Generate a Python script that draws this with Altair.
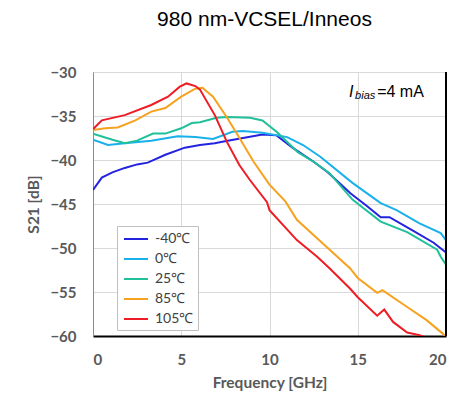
import altair as alt
import pandas as pd

# ---- data ----
series_names = ["-40℃", "0℃", "25℃", "85℃", "105℃"]
series_colors = ["#2323e0", "#1ab0ea", "#1fc09a", "#f6a21e", "#ee1c25"]

f_m40 = [0, 0.5, 1.1, 1.8, 2.5, 3.1, 4.1, 5.2, 6.06, 6.9, 7.4, 8.5, 9.6, 10.4, 11.3, 12.5, 13.3, 14.6, 15.5, 16.3, 16.8, 18.1, 19.3, 20]
db_m40 = [-43.4, -42.0, -41.4, -40.9, -40.5, -40.3, -39.4, -38.6, -38.3, -38.1, -37.9, -37.5, -37.1, -37.2, -38.6, -40.2, -41.4, -43.8, -45.2, -46.5, -46.5, -48.0, -49.4, -50.5]

f_0 = [0, 0.85, 1.8, 3.3, 4.8, 5.8, 6.8, 7.9, 8.5, 9.6, 11.0, 11.9, 12.86, 14.7, 16.3, 17.2, 18.5, 19.7, 20]
db_0 = [-37.7, -38.3, -38.1, -37.8, -37.3, -37.4, -37.6, -36.8, -36.7, -36.9, -37.4, -38.3, -39.6, -42.6, -44.9, -45.7, -47.2, -48.3, -49.1]

f_25 = [0, 1.1, 1.8, 2.5, 3.4, 4.1, 5.0, 5.6, 6.06, 7.0, 7.6, 8.9, 9.6, 10.4, 11.6, 12.5, 13.4, 14.7, 16.3, 17.8, 19.5, 19.7, 20]
db_25 = [-37.0, -37.7, -38.1, -37.8, -37.0, -37.0, -36.4, -35.8, -35.7, -35.2, -35.1, -35.2, -35.5, -36.8, -39.1, -40.2, -41.5, -44.5, -47.0, -48.2, -50.2, -51.0, -51.9]

f_85 = [0, 0.7, 1.4, 2.4, 3.3, 4.1, 5.0, 5.8, 6.2, 6.8, 7.6, 8.3, 9.1, 10.0, 10.9, 11.55, 13.3, 14.56, 15.0, 16.1, 16.4, 17.8, 18.9, 19.8, 20]
db_85 = [-36.6, -36.4, -36.3, -35.5, -34.5, -34.1, -32.8, -31.9, -31.8, -32.8, -35.2, -37.5, -40.2, -42.8, -44.7, -46.8, -50.0, -52.3, -53.4, -55.1, -54.8, -56.7, -58.2, -59.7, -60.1]

f_105 = [0, 0.5, 1.8, 3.3, 4.25, 4.9, 5.3, 5.8, 6.06, 6.9, 7.6, 8.3, 8.9, 9.86, 10.0, 11.55, 12.7, 13.4, 14.56, 15.0, 16.1, 16.5, 17.0, 17.8, 18.5, 18.8]
db_105 = [-36.5, -35.5, -34.9, -33.75, -32.8, -31.7, -31.3, -31.6, -32.0, -34.9, -38.0, -40.6, -42.3, -44.8, -45.7, -49.1, -51.0, -52.3, -54.6, -55.6, -57.7, -57.0, -58.4, -59.6, -59.9, -60.1]

x_ticks = [0, 5, 10, 15, 20]
y_ticks = [-60, -55, -50, -45, -40, -35, -30]

rows = []
for name, fs, ds in zip(series_names, [f_m40, f_0, f_25, f_85, f_105],
                        [db_m40, db_0, db_25, db_85, db_105]):
    for i, (f, d) in enumerate(zip(fs, ds)):
        rows.append({"series": name, "f": f, "db": d, "i": i})
df = pd.DataFrame(rows)

FONT = "Lato"
LABEL_COLOR = "#595959"

x_scale = alt.Scale(domain=[0, 20], nice=False)
y_scale = alt.Scale(domain=[-60, -30], nice=False)

lines = alt.Chart(df).mark_line(strokeWidth=2, clip=True).encode(
    x=alt.X("f:Q", scale=x_scale, title="Frequency [GHz]",
            axis=alt.Axis(values=x_ticks, tickSize=0, labelPadding=16,
                          titlePadding=8, domainColor="#000000", domainWidth=2,
                          gridColor="#d9d9d9", labelFontWeight="bold",
                          titleFontWeight="bold", labelFontSize=15, titleFontSize=15.5,
                          labelColor=LABEL_COLOR, titleColor=LABEL_COLOR,
                          labelFont=FONT, titleFont=FONT)),
    y=alt.Y("db:Q", scale=y_scale, title="S21 [dB]",
            axis=alt.Axis(values=y_ticks, tickSize=0, labelPadding=17,
                          titlePadding=8, domainColor="#8c8c8c", domainWidth=1,
                          gridColor="#d9d9d9", labelFontWeight="bold",
                          titleFontWeight="bold", labelFontSize=15, titleFontSize=15.5,
                          labelColor=LABEL_COLOR, titleColor=LABEL_COLOR,
                          labelFont=FONT, titleFont=FONT)),
    color=alt.Color("series:N",
                    scale=alt.Scale(domain=series_names, range=series_colors),
                    sort=series_names,
                    legend=alt.Legend(title=None, orient="none", legendX=24, legendY=154,
                                      symbolType="M-1.5,0H1.5", symbolSize=256,
                                      symbolStrokeWidth=2, symbolOffset=6,
                                      labelFontSize=14, labelFont=FONT,
                                      labelColor="#404040",
                                      fillColor="#ffffff", strokeColor="#bfbfbf",
                                      padding=4, rowPadding=4, labelOffset=10,
                                      offset=0)),
    order="i:Q",
)

right_border = alt.Chart(pd.DataFrame({"f": [20]})).mark_rule(
    color="#000000", strokeWidth=2).encode(x=alt.X("f:Q", scale=x_scale))

ann_I = alt.Chart(pd.DataFrame({"f": [14.5], "db": [-32.84], "t": ["I"]})).mark_text(
    font="Liberation Sans", fontSize=16, fontStyle="italic", align="left",
    baseline="alphabetic", color="#000000").encode(
    x=alt.X("f:Q", scale=x_scale), y=alt.Y("db:Q", scale=y_scale), text="t:N")
ann_sub = alt.Chart(pd.DataFrame({"f": [14.85], "db": [-33.1], "t": ["bias"]})).mark_text(
    font="Liberation Sans", fontSize=11, fontStyle="italic", align="left",
    baseline="alphabetic", color="#000000").encode(
    x=alt.X("f:Q", scale=x_scale), y=alt.Y("db:Q", scale=y_scale), text="t:N")
ann_rest = alt.Chart(pd.DataFrame({"f": [16.1], "db": [-32.84], "t": ["=4 mA"]})).mark_text(
    font="Liberation Sans", fontSize=16, align="left",
    baseline="alphabetic", color="#000000").encode(
    x=alt.X("f:Q", scale=x_scale), y=alt.Y("db:Q", scale=y_scale), text="t:N")

chart = alt.layer(lines, right_border, ann_I, ann_sub, ann_rest).properties(
    width=353, height=264,
    title=alt.TitleParams("980 nm-VCSEL/Inneos", font="Liberation Sans", fontSize=21,
                          fontWeight="normal", color="#000000", anchor="middle",
                          offset=35, dx=-5),
    autosize=alt.AutoSizeParams(type="none"),
    padding={"left": 85, "top": 64, "right": 10, "bottom": 62},
).configure_view(stroke="#8c8c8c", strokeWidth=1)

chart.save("out.html", embed_options={"renderer": "svg", "actions": False})
